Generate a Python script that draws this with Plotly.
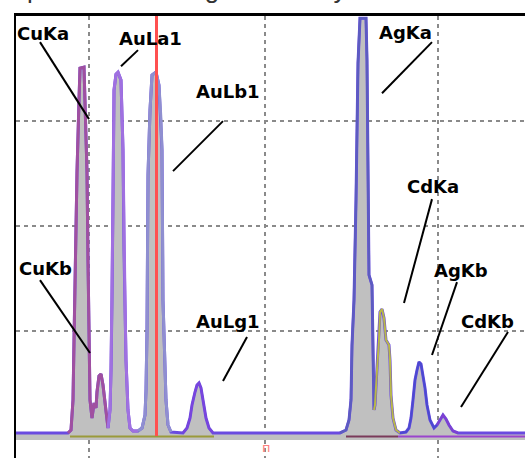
import plotly.graph_objects as go

# ---- data (energy in keV, counts) ----
energy = [4.6, 7.3, 7.45, 7.55, 7.6, 7.7, 7.75, 7.85, 7.9, 8.1, 8.15, 8.25, 8.3, 8.35, 8.4, 8.5, 8.6, 8.7, 8.75, 8.85,
          8.95, 9.05, 9.15, 9.25, 9.3,
          9.4, 9.45, 9.5, 9.55, 9.6, 9.7, 9.8, 9.95, 10.05, 10.1, 10.15, 10.2, 10.3, 10.4, 10.55, 10.8,
          11.0, 11.15, 11.2, 11.25, 11.3, 11.4, 11.5, 11.7, 11.85, 11.95, 12.0, 12.05, 12.1, 12.2, 12.3, 12.45, 13.05,
          13.25, 13.4, 13.5, 13.65, 13.75, 13.85, 13.95, 14.05, 14.2, 14.35, 14.55, 20.9,
          21.2, 21.35, 21.45, 21.5, 21.6, 21.7, 21.8, 21.9, 22.2, 22.25, 22.3, 22.35, 22.5, 22.55, 22.6, 22.65,
          22.75, 22.85, 22.9, 23.0, 23.1, 23.2, 23.35, 23.4, 23.45, 23.55, 23.7, 23.9,
          24.2, 24.35, 24.45, 24.55, 24.65, 24.75, 24.85, 24.95, 25.05, 25.15, 25.25, 25.4, 25.6, 25.75,
          25.9, 26.05, 26.2, 26.35, 26.55, 26.8, 30.2]
counts = [29, 29, 57, 343, 914, 2247, 2513, 3199, 3503, 3513, 3199, 2513, 1676, 866, 343, 171, 314, 267, 419, 571,
          590, 486, 295, 114, 76,
          248, 628, 1295, 2247, 3294, 3446, 3465, 3389, 2723, 1771, 1295, 724, 248, 76, 48, 48,
          76, 200, 438, 1009, 2485, 3104, 3437, 3465, 3342, 3008, 2723, 1295, 914, 343, 105, 38, 29,
          76, 171, 295, 419, 486, 505, 457, 343, 171, 76, 29, 29,
          57, 152, 343, 866, 1295, 2247, 3551, 3979, 3979, 3580, 2247, 1533, 1438, 819, 248, 295,
          628, 914, 1180, 1209, 1123, 914, 866, 724, 390, 171, 57, 29,
          38, 76, 171, 343, 533, 628, 705, 686, 581, 457, 295, 152, 76, 105,
          152, 200, 162, 105, 48, 29, 29]

# energy windows of each line family and its outline colour
window_names = ["Cu", "AuLa", "AuLb", "AuLg", "AgKa", "CdKa", "AgKb", "CdKb"]
window_lo = [7.3, 9.3, 10.8, 13.05, 20.9, 22.6, 23.9, 25.75]
window_hi = [9.3, 10.8, 12.5, 14.55, 22.6, 23.9, 25.75, 26.8]
window_colors = ["#a050a0", "#a070e0", "#8f8fd0", "#7a44dd", "#5c5cc0", "#b8b848", "#4a4ad0", "#8040d0"]
window_widths = [3, 3, 3, 2, 2.5, 2, 2, 2]

# peak labels: text, label position, pointer start, pointer end
label_text = ["CuKa", "AuLa1", "AuLb1", "AgKa", "CdKa", "CuKb", "AuLg1", "AgKb", "CdKb"]
label_x = [6.05, 11.4, 15.3, 24.15, 25.55, 6.15, 15.3, 26.95, 28.25]
label_y = [3837, 3789, 3284, 3846, 2380, 1600, 1095, 1580, 1095]
ptr_x0 = [5.9, 10.8, 15.05, 25.5, 25.5, 5.9, 16.25, 26.75, 29.3]
ptr_y0 = [3751, 3675, 2999, 3751, 2256, 1485, 942, 1466, 990]
ptr_x1 = [8.35, 9.95, 12.55, 23.0, 24.1, 8.4, 15.05, 25.5, 26.95]
ptr_y1 = [3018, 3522, 2523, 3265, 1266, 790, 524, 771, 276]

cursor_energy = 11.725
grid_x = [8.35, 17.15, 25.8]
grid_y = [1000, 2000, 3000]
title_text = "spectrum of AuAgCuCd alloy."

fig = go.Figure()

# base for the grey fill
fig.add_trace(go.Scatter(x=[energy[0], energy[-1]], y=[-38, -38], mode="lines",
                         line=dict(width=0, color="#c0c0c0"), hoverinfo="skip"))
# total spectrum
fig.add_trace(go.Scatter(x=energy, y=counts, mode="lines", fill="tonexty",
                         fillcolor="#c0c0c0", line=dict(color="#6a4ae0", width=3),
                         hoverinfo="skip"))
# element outlines
for lo, hi, col, w in zip(window_lo, window_hi, window_colors, window_widths):
    xs = [e for e in energy if lo <= e <= hi]
    ys = [c for e, c in zip(energy, counts) if lo <= e <= hi]
    fig.add_trace(go.Scatter(x=xs, y=ys, mode="lines", line=dict(color=col, width=w),
                             hoverinfo="skip"))

# coloured strips under baseline
fig.add_trace(go.Scatter(x=[7.4, 14.6], y=[-5, -5], mode="lines",
                         line=dict(color="#9a9a3a", width=2), hoverinfo="skip"))
fig.add_trace(go.Scatter(x=[21.2, 23.8], y=[-5, -5], mode="lines",
                         line=dict(color="#7a3a5a", width=2), hoverinfo="skip"))
fig.add_trace(go.Scatter(x=[23.8, 30.2], y=[-5, -5], mode="lines",
                         line=dict(color="#9a44cc", width=2), hoverinfo="skip"))

shapes = [dict(type="line", xref="x", yref="y", x0=cursor_energy, x1=cursor_energy, y0=0, y1=4000,
               line=dict(color="#ff5050", width=3), layer="above")]
for a, b, c, d in zip(ptr_x0, ptr_y0, ptr_x1, ptr_y1):
    shapes.append(dict(type="line", xref="x", yref="y", x0=a, y0=b, x1=c, y1=d,
                       line=dict(color="black", width=2), layer="above"))

annotations = []
for t, x, y in zip(label_text, label_x, label_y):
    annotations.append(dict(x=x, y=y, xref="x", yref="y", text="<b>" + t + "</b>", showarrow=False,
                            font=dict(family="DejaVu Sans", size=18, color="black"),
                            xanchor="center", yanchor="middle"))
annotations.append(dict(x=17.2, y=-110, xref="x", yref="y", text="п", showarrow=False,
                        font=dict(family="DejaVu Sans", size=13, color="#ff8080")))
annotations.append(dict(x=-0.008, y=1.0226, xref="paper", yref="paper", text=title_text,
                        showarrow=False, xanchor="left", yanchor="bottom",
                        font=dict(family="Liberation Sans", size=26, color="#333333")))

fig.update_layout(
    width=525, height=458, margin=dict(l=16, r=0, t=16, b=0),
    paper_bgcolor="white", plot_bgcolor="white", showlegend=False,
    shapes=shapes, annotations=annotations,
    xaxis=dict(range=[4.7, 30.15], tickvals=grid_x, showticklabels=False, ticks="",
               showgrid=True, gridcolor="#8a8a8a", gridwidth=2, griddash="4px,4px",
               zeroline=False, showline=True, linecolor="black", linewidth=3, side="top",
               automargin=False),
    yaxis=dict(range=[-209.5, 4000], tickvals=grid_y, showticklabels=False, ticks="",
               showgrid=True, gridcolor="#8a8a8a", gridwidth=2, griddash="4px,4px",
               zeroline=False, showline=True, linecolor="black", linewidth=2,
               automargin=False),
)

fig.write_html("out.html", config={"displayModeBar": False},
               post_script="document.body.style.margin='0px';")
